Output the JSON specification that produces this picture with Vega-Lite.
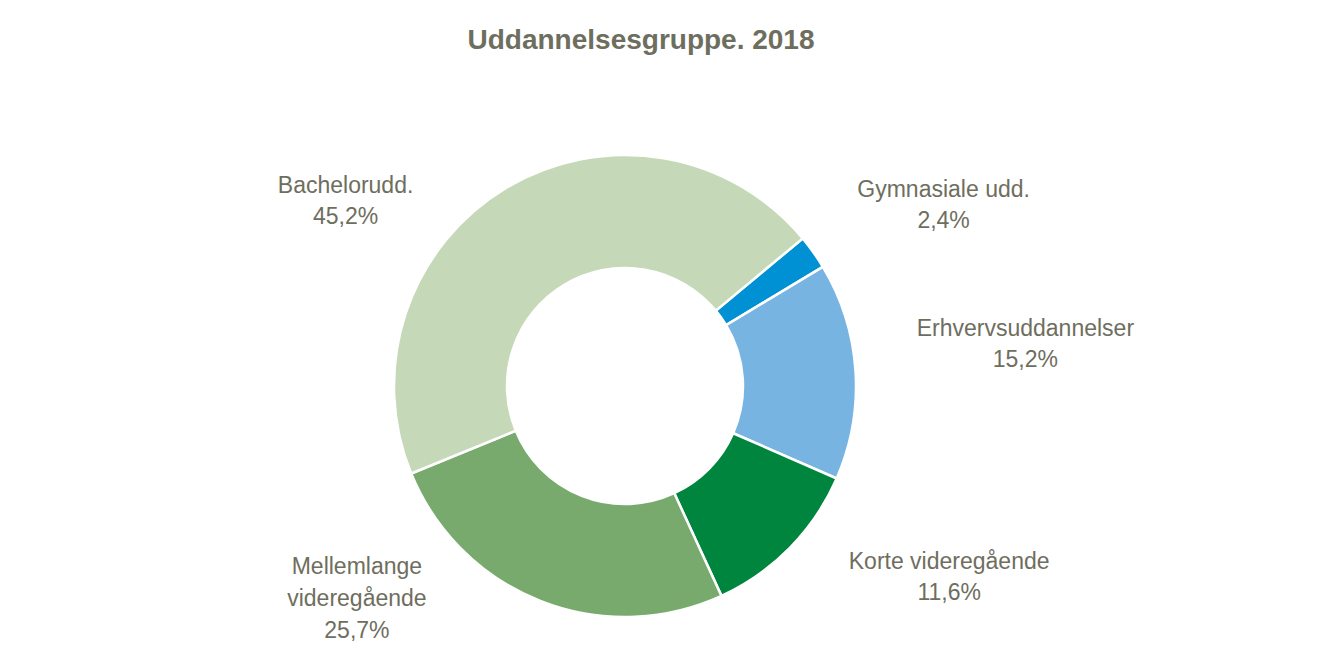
{
  "$schema": "https://vega.github.io/schema/vega-lite/v6.json",
  "width": 1250,
  "height": 612,
  "autosize": {"type": "none"},
  "padding": {"left": 0, "top": 80, "right": 68, "bottom": 0},
  "background": "white",
  "title": {
    "text": "Uddannelsesgruppe. 2018",
    "font": "Liberation Sans",
    "fontSize": 28,
    "fontWeight": "bold",
    "color": "#6E6E5E",
    "anchor": "middle",
    "offset": 25,
    "dx": 16
  },
  "config": {"view": {"stroke": null}},
  "data": {
    "values": [
      {"gruppe": "Gymnasiale udd.", "andel": 2.4, "order": 1, "label": "Gymnasiale udd.\n2,4%"},
      {"gruppe": "Erhvervsuddannelser", "andel": 15.2, "order": 2, "label": "Erhvervsuddannelser\n15,2%"},
      {"gruppe": "Korte videregående", "andel": 11.6, "order": 3, "label": "Korte videregående\n11,6%"},
      {"gruppe": "Mellemlange videregående", "andel": 25.7, "order": 4, "label": "Mellemlange\nvideregående\n25,7%"},
      {"gruppe": "Bachelorudd.", "andel": 45.2, "order": 5, "label": "Bachelorudd.\n45,2%"}
    ]
  },
  "layer": [
    {
      "mark": {"type": "arc", "radius": 231, "radius2": 118, "stroke": "white", "strokeWidth": 2.5},
      "encoding": {
        "theta": {"field": "andel", "type": "quantitative", "stack": true, "scale": {"domain": [0, 100.1], "range": [0.878, 7.161]}},
        "order": {"field": "order", "type": "quantitative", "sort": "ascending"},
        "color": {
          "field": "gruppe",
          "type": "nominal",
          "scale": {
            "domain": ["Gymnasiale udd.", "Erhvervsuddannelser", "Korte videregående", "Mellemlange videregående", "Bachelorudd."],
            "range": ["#0091D5", "#78B4E2", "#00853E", "#78AA6E", "#C5D8B7"]
          },
          "legend": null
        }
      }
    },
    {
      "transform": [
        {"stack": "andel", "groupby": [], "sort": [{"field": "order", "order": "ascending"}], "as": ["s0", "s1"]},
        {"calculate": "(datum.s0 + datum.s1) / 2", "as": "mid"},
        {"filter": "datum.order == 1"}
      ],
      "mark": {"type": "text", "radius": 300, "font": "Liberation Sans", "fontSize": 23, "color": "#6E6E5E", "lineBreak": "\n", "lineHeight": 31, "align": "center", "baseline": "middle", "dx": 74, "dy": -22},
      "encoding": {
        "theta": {"field": "mid", "type": "quantitative", "stack": null},
        "text": {"field": "label"}
      }
    },
    {
      "transform": [
        {"stack": "andel", "groupby": [], "sort": [{"field": "order", "order": "ascending"}], "as": ["s0", "s1"]},
        {"calculate": "(datum.s0 + datum.s1) / 2", "as": "mid"},
        {"filter": "datum.order == 2"}
      ],
      "mark": {"type": "text", "radius": 300, "font": "Liberation Sans", "fontSize": 23, "color": "#6E6E5E", "lineBreak": "\n", "lineHeight": 31, "align": "center", "baseline": "middle", "dx": 101, "dy": -37},
      "encoding": {
        "theta": {"field": "mid", "type": "quantitative", "stack": null},
        "text": {"field": "label"}
      }
    },
    {
      "transform": [
        {"stack": "andel", "groupby": [], "sort": [{"field": "order", "order": "ascending"}], "as": ["s0", "s1"]},
        {"calculate": "(datum.s0 + datum.s1) / 2", "as": "mid"},
        {"filter": "datum.order == 3"}
      ],
      "mark": {"type": "text", "radius": 300, "font": "Liberation Sans", "fontSize": 23, "color": "#6E6E5E", "lineBreak": "\n", "lineHeight": 31, "align": "center", "baseline": "middle", "dx": 110, "dy": -34},
      "encoding": {
        "theta": {"field": "mid", "type": "quantitative", "stack": null},
        "text": {"field": "label"}
      }
    },
    {
      "transform": [
        {"stack": "andel", "groupby": [], "sort": [{"field": "order", "order": "ascending"}], "as": ["s0", "s1"]},
        {"calculate": "(datum.s0 + datum.s1) / 2", "as": "mid"},
        {"filter": "datum.order == 4"}
      ],
      "mark": {"type": "text", "radius": 300, "font": "Liberation Sans", "fontSize": 23, "color": "#6E6E5E", "lineBreak": "\n", "lineHeight": 32, "align": "center", "baseline": "middle", "dx": -158, "dy": -98},
      "encoding": {
        "theta": {"field": "mid", "type": "quantitative", "stack": null},
        "text": {"field": "label"}
      }
    },
    {
      "transform": [
        {"stack": "andel", "groupby": [], "sort": [{"field": "order", "order": "ascending"}], "as": ["s0", "s1"]},
        {"calculate": "(datum.s0 + datum.s1) / 2", "as": "mid"},
        {"filter": "datum.order == 5"}
      ],
      "mark": {"type": "text", "radius": 300, "font": "Liberation Sans", "fontSize": 23, "color": "#6E6E5E", "lineBreak": "\n", "lineHeight": 31, "align": "center", "baseline": "middle", "dx": -125, "dy": 57},
      "encoding": {
        "theta": {"field": "mid", "type": "quantitative", "stack": null},
        "text": {"field": "label"}
      }
    }
  ]
}
